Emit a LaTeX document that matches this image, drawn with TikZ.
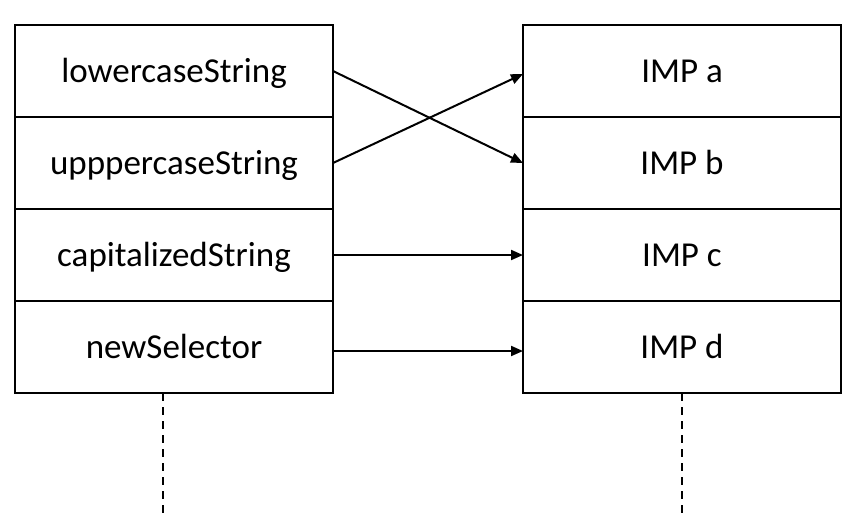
\documentclass[tikz,border=0pt]{standalone}
\usepackage{fontspec}
\setmainfont{Carlito}
\usepackage{tikz}
\usetikzlibrary{positioning,arrows.meta}

\begin{document}
\begin{tikzpicture}[x=1pt,y=-1pt,
    cell/.style={rectangle, draw, line width=2pt, minimum width=318pt, minimum height=92pt,
      inner sep=0pt, outer sep=0pt, text height=26pt, text depth=3.5pt,
      font=\fontsize{35}{42}\selectfont},
    link/.style={line width=2pt, -{Triangle[length=12pt,width=10pt]}},
    life/.style={line width=2pt, dash pattern=on 8pt off 6pt}]
    \useasboundingbox (0,0) rectangle (862,528);
    % selectors
    \node [cell] (sel1) at (174,71) {lowercaseString};
    \node [cell, below=0pt of sel1] (sel2) {upppercaseString};
    \node [cell, below=0pt of sel2] (sel3) {capitalizedString};
    \node [cell, below=0pt of sel3] (sel4) {newSelector};
    % implementations
    \node [cell] (imp1) at (682,71) {IMP a};
    \node [cell, below=0pt of imp1] (imp2) {IMP b};
    \node [cell, below=0pt of imp2] (imp3) {IMP c};
    \node [cell, below=0pt of imp3] (imp4) {IMP d};
    % mapping
    \draw [link] (sel1.east) -- (imp2.west);
    \draw [link] (sel2.east) -- ([yshift=-3pt]imp1.west);
    \draw [link] (sel3.east) -- (imp3.west);
    \draw [link] ([yshift=-4pt]sel4.east) -- ([yshift=-4pt]imp4.west);
    % lifelines
    \coordinate (endL) at (163,513);
    \coordinate (endR) at (682,513);
    \draw [life] (sel4.south -| endL) -- (endL);
    \draw [life] (imp4.south) -- (endR);
\end{tikzpicture}
\end{document}
